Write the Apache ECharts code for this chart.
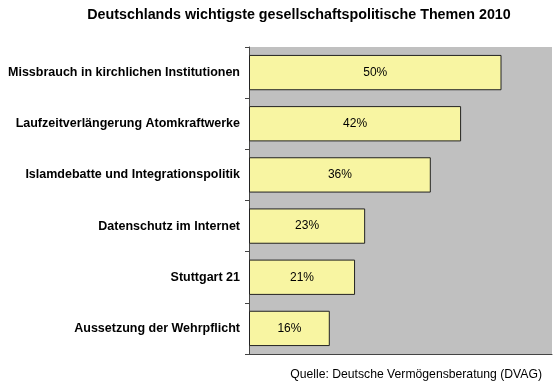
<!DOCTYPE html>
<html><head><meta charset="utf-8">
<script src="https://cdn.jsdelivr.net/npm/echarts@6/dist/echarts.min.js"></script>
<style>html,body{margin:0;padding:0;background:#fff}#c{width:560px;height:382px}</style>
</head><body><div id="c"></div>
<script>
const categories = ["Missbrauch in kirchlichen Institutionen","Laufzeitverlängerung Atomkraftwerke","Islamdebatte und Integrationspolitik","Datenschutz im Internet","Stuttgart 21","Aussetzung der Wehrpflicht"];
const values = [50, 42, 36, 23, 21, 16];
const titleText = "Deutschlands wichtigste gesellschaftspolitische Themen 2010";
const sourceText = "Quelle: Deutsche Vermögensberatung (DVAG)";
const chart = echarts.init(document.getElementById('c'));
chart.setOption({
  animation: false,
  title: [{text: titleText, left: 294, textAlign: 'center', top: 3, textStyle:{fontFamily:'Liberation Sans, Arial', fontSize:14.3, fontWeight:'bold', color:'#000'}},
          {text: sourceText, right: 13, top: 364, textStyle:{fontFamily:'Liberation Sans, Arial', fontSize:12.2, fontWeight:'normal', color:'#000'}}],
  grid: {left: 249, right: 8, top: 47, bottom: 28, show: true, backgroundColor: '#c0c0c0', borderWidth: 0},
  xAxis: {type:'value', min:0, max:60, axisLabel:{show:false}, splitLine:{show:false}, axisTick:{show:false}, axisLine:{show:true, lineStyle:{color:'#444'}}},
  yAxis: {type:'category', inverse:true, data: categories,
    axisLine:{show:true, lineStyle:{color:'#444'}},
    axisTick:{show:true, length:4, lineStyle:{color:'#444'}},
    axisLabel:{fontFamily:'Liberation Sans, Arial', fontSize:12.5, fontWeight:'bold', color:'#000', margin:9}},
  series: [{type:'bar', data: values, barCategoryGap:'31%',
    itemStyle:{color:'#f8f5a2', borderColor:'#222', borderWidth:1},
    label:{show:true, position:'inside', formatter:'{c}%', fontFamily:'Liberation Sans, Arial', fontSize:12, color:'#000'}}]
});
</script></body></html>
